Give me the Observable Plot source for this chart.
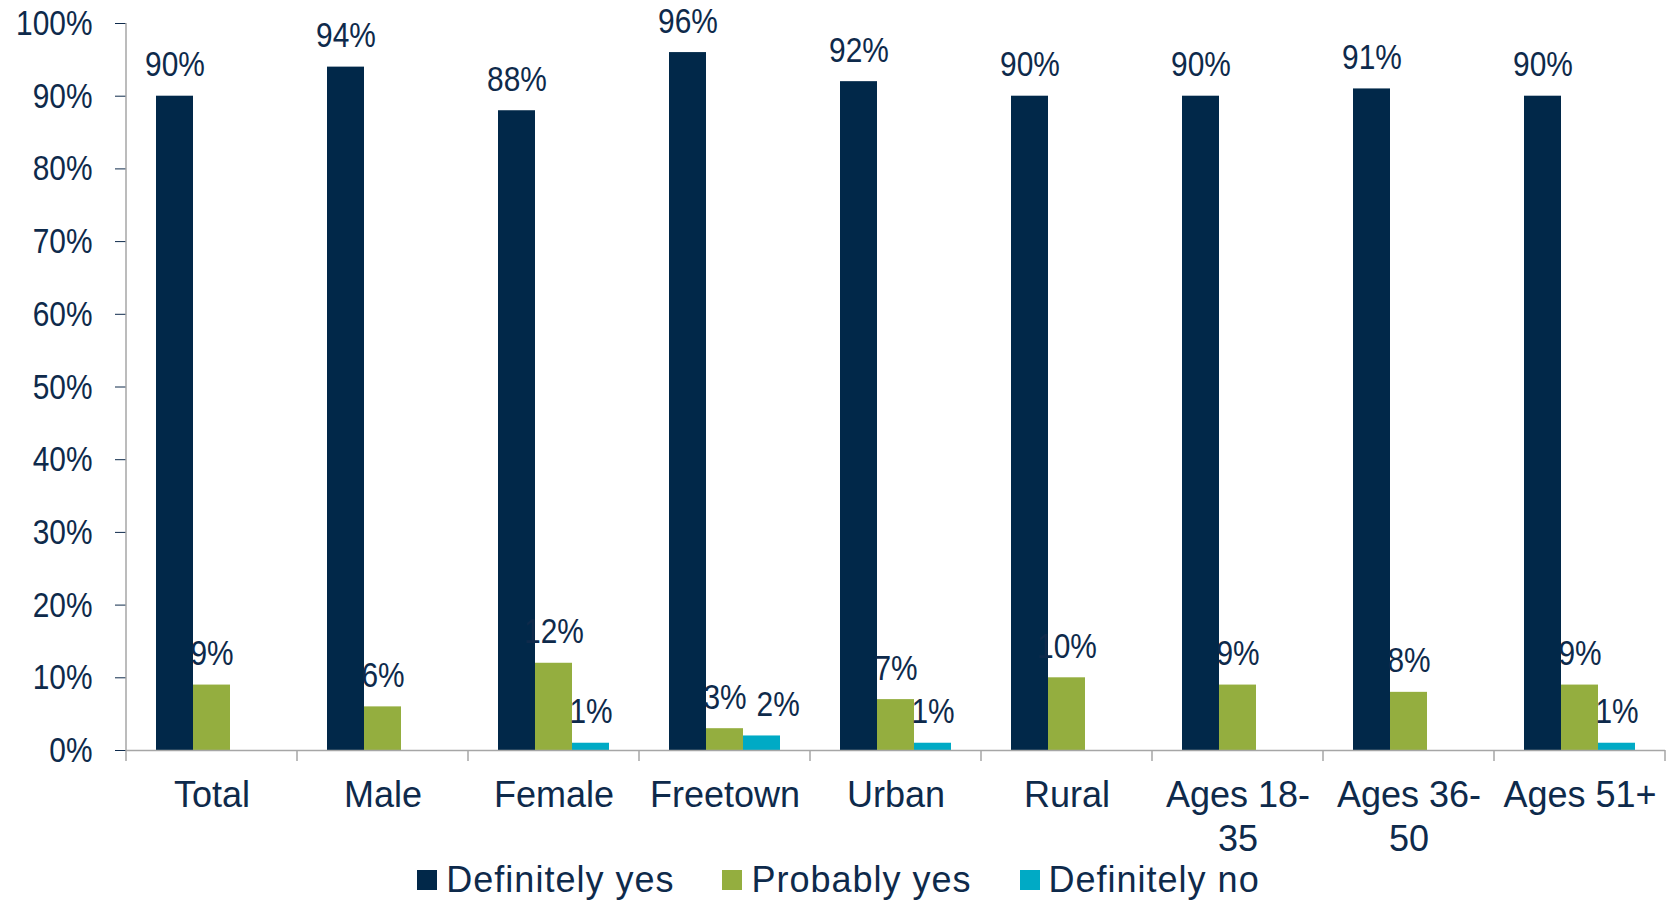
<!DOCTYPE html>
<html>
<head>
<meta charset="utf-8">
<script src="https://cdn.jsdelivr.net/npm/d3@7"></script>
<script src="https://cdn.jsdelivr.net/npm/@observablehq/plot@0.6"></script>
<style>
  html, body { margin: 0; padding: 0; background: #fff; overflow: hidden; }
  #chart svg { display: block; }
  g[aria-label="y-axis tick"] { stroke: #a6a6a6; }
  #legend {
    display: flex; justify-content: center; align-items: center; gap: 48px;
    height: 44px; width: 1677px;
    font-family: "Liberation Sans", Arial, sans-serif; font-size: 36px; line-height: 1;
    letter-spacing: 1px;
    color: #0e2a4b;
  }
  #legend .item { display: flex; align-items: center; }
  #legend .sw { width: 20px; height: 20px; margin-right: 9px; }
</style>
</head>
<body>
<div id="chart"></div>
<div id="legend"></div>
<script>
const categories = ["Total", "Male", "Female", "Freetown", "Urban", "Rural", "Ages 18-\n35", "Ages 36-\n50", "Ages 51+"];
const seriesNames = ["Definitely yes", "Probably yes", "Definitely no"];
const definitelyYes = [90, 94, 88, 96, 92, 90, 90, 91, 90];
const probablyYes = [9, 6, 12, 3, 7, 10, 9, 8, 9];
const definitelyNo = [0, 0, 1, 2, 1, 0, 0, 0, 1];
const seriesColors = ["#012849", "#94ae3f", "#00aac5"];
const yTicks = [0, 10, 20, 30, 40, 50, 60, 70, 80, 90, 100];

const textColor = "#0e2a4b";
const axisGray = "#a6a6a6";

const seriesValues = [definitelyYes, probablyYes, definitelyNo];
const rows = [];
seriesValues.forEach((vals, s) => vals.forEach((v, i) => {
  if (v > 0) rows.push({category: categories[i], series: seriesNames[s], value: v});
}));

const chart = Plot.plot({
  width: 1677,
  height: 858,
  marginTop: 23,
  marginRight: 11,
  marginBottom: 108,
  marginLeft: 125,
  style: {fontFamily: "'Liberation Sans', Arial, sans-serif", fontSize: "36px", color: textColor, background: "#fff", overflow: "visible"},
  fx: {domain: categories, padding: 0, label: null},
  x: {domain: seriesNames, paddingInner: 0, paddingOuter: 0.756, axis: null},
  y: {domain: [0, 100], ticks: yTicks, tickFormat: d => d + "%", tickSize: 11, tickPadding: 23, label: null},
  color: {domain: seriesNames, range: seriesColors},
  marks: [
    Plot.barY(rows, {fx: "category", x: "series", y: "value", fill: "series"}),
    Plot.ruleY([0], {stroke: axisGray, strokeWidth: 1.5}),
    Plot.text(rows, {fx: "category", x: "series", y: "value", text: d => d.value + "%", lineAnchor: "bottom", dy: -20, fontSize: 36, fill: textColor}),
    Plot.axisFx({anchor: "bottom", label: null, tickSize: 0, tickPadding: 25, lineHeight: 1.22, fontSize: 36})
  ]
});
document.getElementById("chart").appendChild(chart);

// narrow the numeric labels horizontally (the reference uses a condensed numeral face)
d3.select(chart)
  .selectAll('g[aria-label="y-axis tick label"] text, g[aria-label="text"] text')
  .attr("transform", function () { return (this.getAttribute("transform") || "") + " scale(0.83,1)"; });

// nudge a value label to the right when it collides with its left neighbour (as the reference does)
d3.select(chart).selectAll('g[aria-label="text"] > g').each(function () {
  const texts = Array.from(this.querySelectorAll("text"));
  const boxes = texts.map(t => ({t, r: t.getBoundingClientRect()})).sort((a, b) => a.r.left - b.r.left);
  for (let k = 1; k < boxes.length; k++) {
    const p = boxes[k - 1].r, c = boxes[k].r;
    const vOverlap = c.top < p.bottom && c.bottom > p.top;
    if (vOverlap && c.left < p.right + 10) {
      const shift = p.right + 10 - c.left;
      const t = boxes[k].t;
      t.setAttribute("transform", `translate(${shift},0) ` + (t.getAttribute("transform") || ""));
      boxes[k].r = t.getBoundingClientRect();
    }
  }
});

// y-axis line and category boundary ticks, positioned from Plot's own scales
const fx = chart.scale("fx");
const y = chart.scale("y");
const yBase = y.apply(0), yTop = y.apply(100);
const bounds = categories.map(c => fx.apply(c)).concat([fx.apply(categories[categories.length - 1]) + fx.bandwidth]);
const g = d3.select(chart).append("g").attr("stroke", axisGray).attr("stroke-width", 1.5);
g.append("line").attr("x1", bounds[0]).attr("x2", bounds[0]).attr("y1", yTop).attr("y2", yBase + 11);
bounds.slice(1).forEach(b => g.append("line").attr("x1", b).attr("x2", b).attr("y1", yBase).attr("y2", yBase + 11));

// legend
const legend = d3.select("#legend");
seriesNames.forEach((name, i) => {
  const item = legend.append("div").attr("class", "item");
  item.append("div").attr("class", "sw").style("background", seriesColors[i]);
  item.append("span").text(name);
});
</script>
</body>
</html>
